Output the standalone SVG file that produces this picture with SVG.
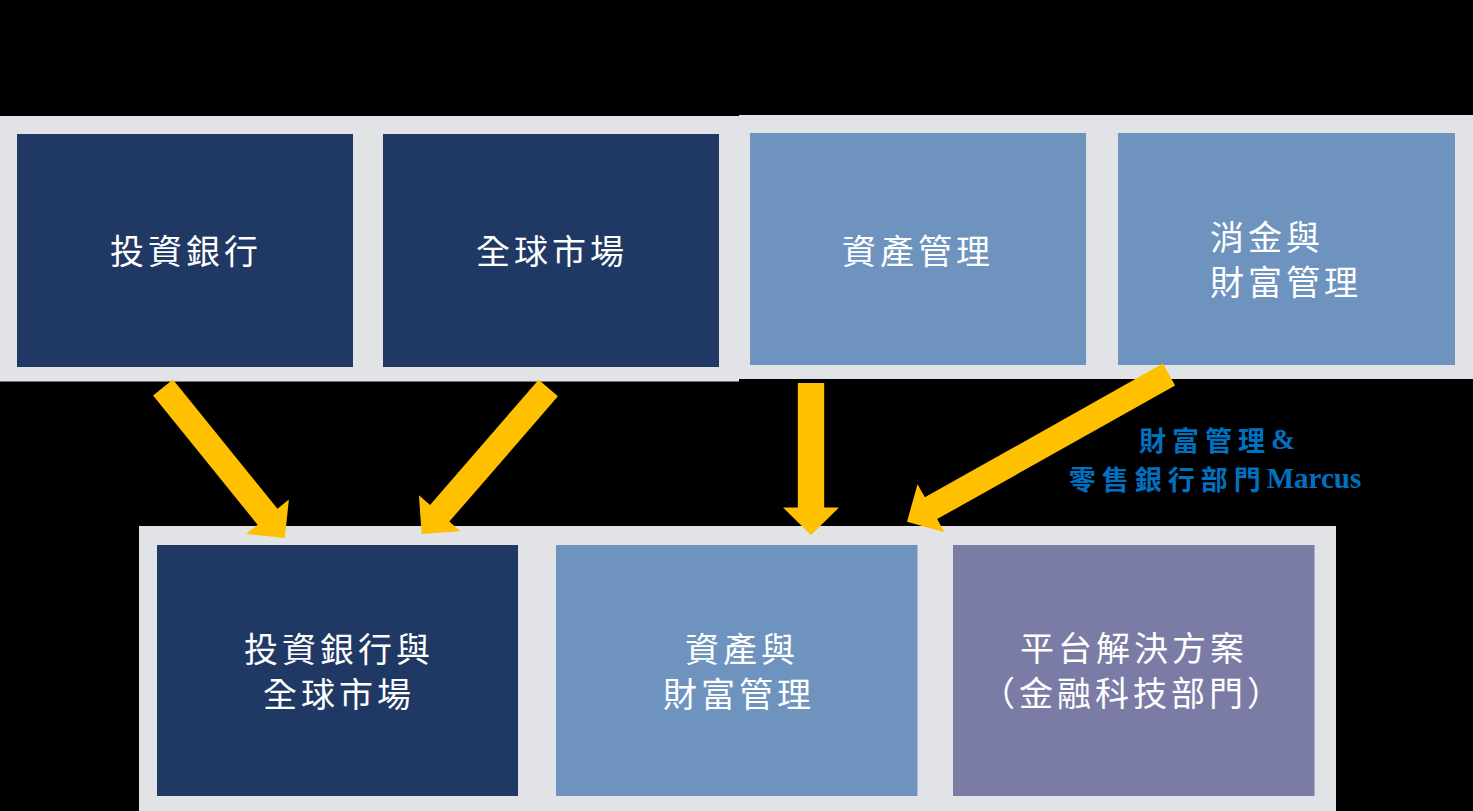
<svg xmlns="http://www.w3.org/2000/svg" width="1473" height="811" viewBox="0 0 1473 811">
  <style>
    .panel { fill: #E1E3E6; }
    .navy { fill: #203864; }
    .sky { fill: #6E93BF; }
    .purple { fill: #7B7CA6; }
    .lbl { font-family: "Noto Sans CJK TC", "Noto Sans CJK SC", sans-serif; font-size: 34px; fill: #FFFFFF; letter-spacing: 4px; text-anchor: middle; dominant-baseline: central; }
    .lbl-l { text-anchor: start; }
    .arrow { fill: #FFC000; }
    .note { font-family: "Noto Sans CJK TC", "Noto Sans CJK SC", sans-serif; font-size: 27px; font-weight: bold; fill: #0070C0; text-anchor: middle; dominant-baseline: central; }
    .latin { font-family: "Liberation Serif", "Noto Sans CJK TC", serif; font-weight: bold; font-size: 29px; letter-spacing: 0px; }
  </style>
  <rect x="0" y="0" width="1473" height="811" fill="#000000"/>

  <g id="panels">
    <rect class="panel" x="0" y="116" width="739" height="265.5"/>
    <rect class="panel" x="739" y="115" width="734" height="264"/>
    <rect class="panel" x="139" y="526" width="1197" height="285"/>
  </g>

  <g id="node-ib">
    <rect class="navy" x="17" y="134" width="336" height="233"/>
    <text class="lbl" x="186" y="249">投資銀行</text>
  </g>
  <g id="node-gm">
    <rect class="navy" x="383" y="134" width="336" height="233"/>
    <text class="lbl" x="552" y="249">全球市場</text>
  </g>
  <g id="node-am">
    <rect class="sky" x="750" y="133" width="336" height="232"/>
    <text class="lbl" x="918" y="249">資產管理</text>
  </g>
  <g id="node-cwm">
    <rect class="sky" x="1118" y="133" width="337" height="232"/>
    <text class="lbl lbl-l" x="1210" y="235">消金與</text>
    <text class="lbl lbl-l" x="1210" y="280">財富管理</text>
  </g>

  <g id="node-ibgm">
    <rect class="navy" x="157" y="545" width="361" height="251"/>
    <text class="lbl" x="339" y="647">投資銀行與</text>
    <text class="lbl" x="339" y="692">全球市場</text>
  </g>
  <g id="node-awm">
    <rect class="sky" x="556" y="545" width="361.5" height="251"/>
    <text class="lbl" x="742" y="647">資產與</text>
    <text class="lbl" x="739" y="692">財富管理</text>
  </g>
  <g id="node-platform">
    <rect class="purple" x="953" y="545" width="361.5" height="251"/>
    <text class="lbl" x="1134" y="646">平台解決方案</text>
    <text class="lbl" x="1133" y="691">（金融科技部門）</text>
  </g>

  <g id="connectors">
    <polygon class="arrow" transform="translate(163,387.5) rotate(51.03)" points="0,-12.75 166.2,-12.75 166.2,-27.5 193.7,0 166.2,27.5 166.2,12.75 0,12.75"/>
    <polygon class="arrow" transform="translate(548.3,388) rotate(130.93)" points="0,-12.75 165.8,-12.75 165.8,-27.5 193.3,0 165.8,27.5 165.8,12.75 0,12.75"/>
    <polygon class="arrow" transform="translate(811,383) rotate(90)" points="0,-13.2 124.5,-13.2 124.5,-28 152,0 124.5,28 124.5,13.2 0,13.2"/>
    <polygon class="arrow" transform="translate(1169,374.5) rotate(150.67)" points="0,-12.5 273,-12.5 273,-27.5 300.5,0 273,27.5 273,12.5 0,12.5"/>
  </g>

  <g id="note-marcus">
    <text class="note" x="1217" y="439" letter-spacing="6">財富管理<tspan class="latin">&amp;</tspan></text>
    <text class="note" x="1215" y="478" letter-spacing="6">零售銀行部門<tspan class="latin">Marcus</tspan></text>
  </g>
</svg>
